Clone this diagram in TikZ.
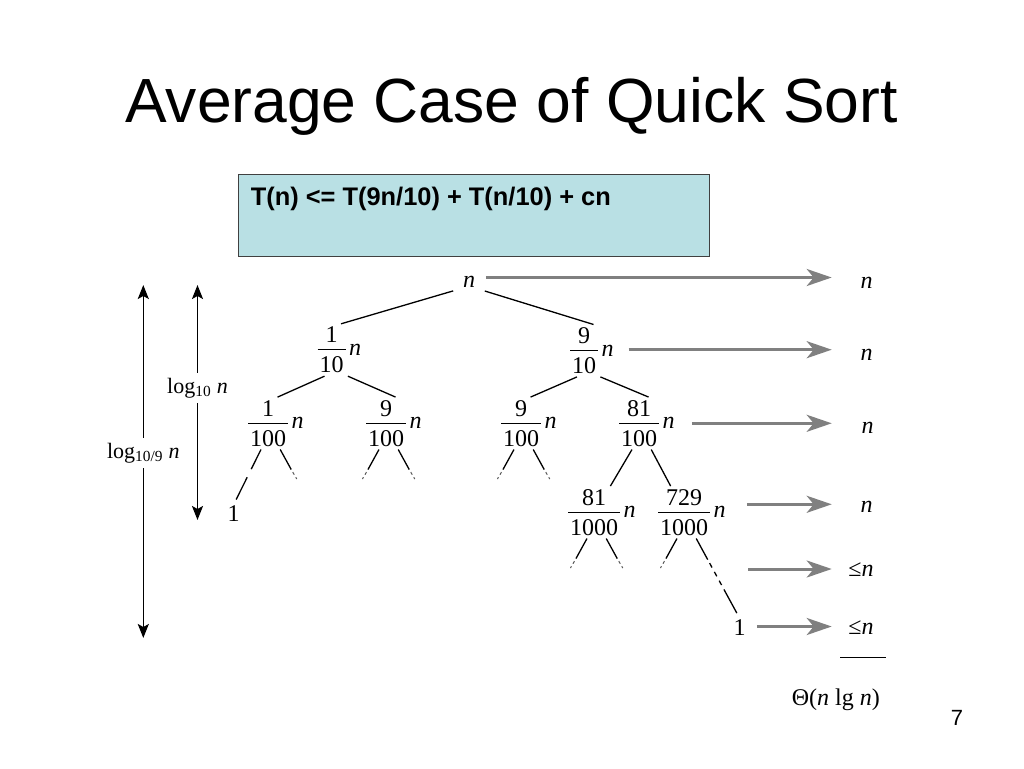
\documentclass[tikz,border=0pt]{standalone}
\usepackage{fontspec}
\setmainfont{Liberation Serif}
\newfontfamily\slidefont{Liberation Sans}
\usetikzlibrary{arrows.meta}
\definecolor{eqboxblue}{RGB}{185,224,228}
\definecolor{sumgray}{RGB}{128,128,128}
\tikzset{
    tree font/.style={font=\fontsize{24}{28}\selectfont},
    frac node/.style={tree font,inner xsep=1pt,inner ysep=3pt,label distance=2pt},
    factor/.style={tree font,inner sep=1pt},
    tree edge/.style={line width=1.3pt},
    fading edge/.style={line width=1pt,black!65,dash pattern=on 0pt off 3pt on 3pt off 3pt on 2pt off 20pt},
    sum arrow/.style={sumgray,line width=3pt,-{Stealth[length=25pt,width=17pt,inset=7pt]}},
    height arrow/.style={<->,>={Stealth[length=14pt,width=11pt,inset=3pt]},line width=1.5pt},
    height label/.style={fill=white,inner xsep=2pt,inner ysep=5pt,font=\fontsize{22}{26}\selectfont},
    eq box/.style={draw=black!75,line width=1pt,fill=eqboxblue,inner sep=0pt},
}
\newcommand\fr[2]{$\displaystyle\frac{\raisebox{-4pt}{\kern2pt#1\kern2pt}}{\mbox{\kern2pt#2\kern2pt}}$}

\begin{document}
\begin{tikzpicture}[x=1pt,y=-1pt]
    \useasboundingbox (0,0) rectangle (1024,768);
    \fill[white] (0,0) rectangle (1024,768);

    \node[anchor=base] (title) at (511.5,122) {\slidefont\fontsize{62.4}{70}\selectfont Average Case of Quick Sort};
    \node[eq box,anchor=north west,minimum width=470.7pt,minimum height=81.4pt] (rec box) at (238.3,174.3) {};
    \node[anchor=base west,inner sep=0pt] (rec text) at (250.7,205.7)
        {\slidefont\bfseries\fontsize{25.4}{30}\selectfont T(n) <= T(9n/10) + T(n/10) + cn};

    \node[factor] (root) at (469,281.5) {\textit{n}};
    \node[frac node,label={[factor,name=ln]east:\textit{n}}] (l) at (331.5,350) {\fr{1}{10}};
    \node[frac node,label={[factor,name=rn]east:\textit{n}}] (r) at (584,350.7) {\fr{9}{10}};
    \node[frac node,label={[factor,name=lln]east:\textit{n}}] (ll) at (268,423.3) {\fr{1}{100}};
    \node[frac node,label={[factor,name=lrn]east:\textit{n}}] (lr) at (386,423.3) {\fr{9}{100}};
    \node[frac node,label={[factor,name=rln]east:\textit{n}}] (rl) at (521,423.3) {\fr{9}{100}};
    \node[frac node,label={[factor,name=rrn]east:\textit{n}}] (rr) at (639,423.3) {\fr{81}{100}};
    \node[frac node,label={[factor,name=rrln]east:\textit{n}}] (rrl) at (594,512.3) {\fr{81}{1000}};
    \node[frac node,label={[factor,name=rrrn]east:\textit{n}}] (rrr) at (684,512.3) {\fr{729}{1000}};
    \node[factor] (lone) at (233.5,514) {1};
    \node[factor] (rone) at (739.7,627.5) {1};

    \draw[tree edge,shorten <=9pt] (root.south west) -- (l.70);
    \draw[tree edge,shorten <=9pt] (root.south east) -- (r.70);
    \foreach \p/\a/\b in {l/ll/lr,r/rl/rr}{
        \draw[tree edge] (\p.-105) -- (\a.70);
        \draw[tree edge] (\p.south east) -- (\b.70);
    }
    \draw[tree edge] (rr.-105) -- (rrl.58);
    \draw[tree edge] (rr.-65) -- (rrr.117);
    \foreach \nd/\an/\d in {ll/-65/1,lr/-105/-1,lr/-65/1,rl/-105/-1,rl/-65/1,rrl/-105/-1,rrl/-65/1,rrr/-105/-1}{
        \draw[tree edge] (\nd.\an) -- ++(\d*11,20) coordinate (stub);
        \draw[fading edge] (stub) -- ++(\d*7,12);
    }
    \draw[tree edge,dash pattern=on 22pt off 9pt on 60pt,shorten >=6pt] (ll.-105) -- (lone.north);
    \draw[tree edge,dash pattern=on 24pt off 4pt on 5pt off 5pt on 5pt off 5pt on 5pt off 5pt on 60pt,shorten >=6pt]
        (rrr.-65) -- (rone.north);

    \node[factor] (s0) at (866.5,282.5) {\textit{n}};
    \node[factor] (s1) at (866.5,354.5) {\textit{n}};
    \node[factor] (s2) at (867.5,427.5) {\textit{n}};
    \node[factor] (s3) at (866.7,507) {\textit{n}};
    \node[factor] (s4) at (861,570) {≤\textit{n}};
    \node[factor] (s5) at (861,627.5) {≤\textit{n}};
    \node[factor,anchor=base] (total) at (835.8,705) {Θ(\textit{n} lg \textit{n})};
    \draw[line width=1.2pt] (840,657.3) -- (886,657.3);

    \coordinate (tips) at (831.7,0);
    \coordinate (open row) at (748.3,569);
    \foreach \src/\gap/\dy in {root/9.7pt/4pt,rn/13.8pt/1pt,rrn/16pt/0pt,rrrn/20pt/8pt,rone/10pt/1pt}
        \draw[sum arrow,shorten <=\gap] ([yshift=\dy]\src.east) -- ([yshift=\dy]\src.east -| tips);
    \draw[sum arrow] (open row) -- (open row -| tips);

    \coordinate (tall top) at (143.3,285);
    \coordinate (tall bot) at (143.3,638);
    \coordinate (short top) at (197.5,285);
    \coordinate (short bot) at (197.5,520);
    \draw[height arrow] (tall top) -- (tall bot)
        node[height label,pos=.476] (tall label) {log\textsubscript{10/9} \textit{n}};
    \draw[height arrow] (short top) -- (short bot)
        node[height label,pos=.438] (short label) {log\textsubscript{10} \textit{n}};

    \node[anchor=base] (page) at (957,725) {\slidefont\fontsize{22}{26}\selectfont 7};
\end{tikzpicture}
\end{document}
